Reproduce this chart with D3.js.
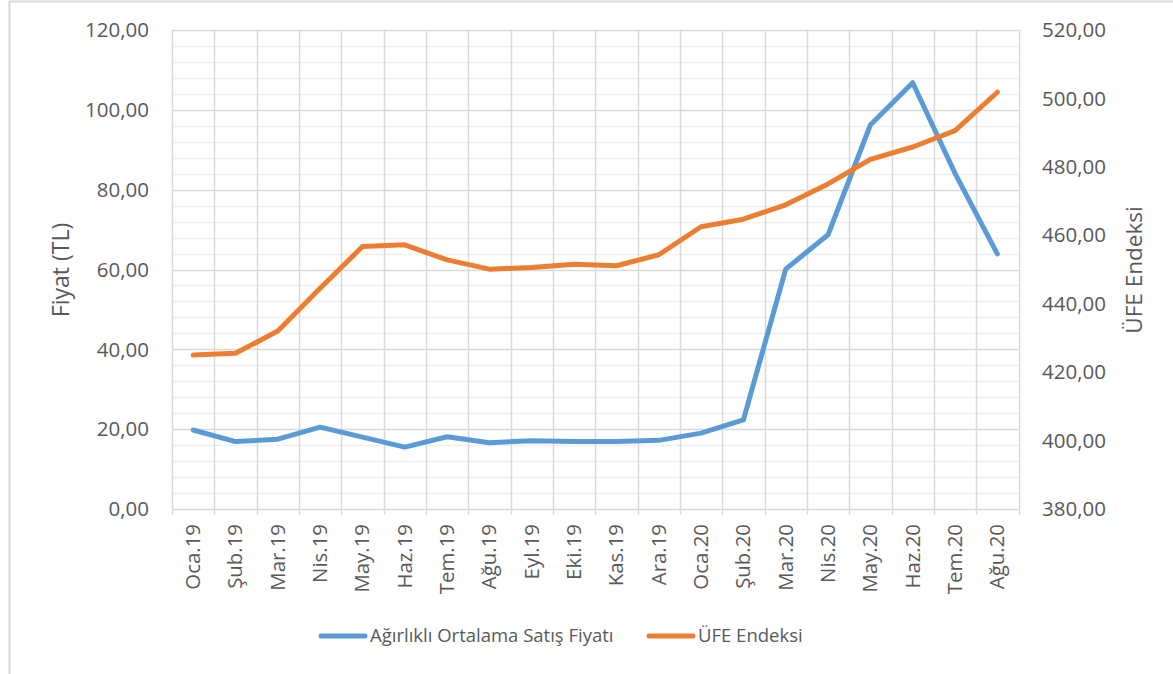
<!DOCTYPE html>
<html>
<head>
<meta charset="utf-8">
<script src="https://cdnjs.cloudflare.com/ajax/libs/d3/7.8.5/d3.min.js"></script>
<style>
  body { margin: 0; background: #fff; }
  svg text { font-family: "Open Sans", "Noto Sans", sans-serif; fill: #595959; }
</style>
</head>
<body>
<svg id="chart" width="1173" height="674"></svg>
<script>
// Months (categories)
var months = ["Oca.19", "Şub.19", "Mar.19", "Nis.19", "May.19", "Haz.19", "Tem.19", "Ağu.19",
              "Eyl.19", "Eki.19", "Kas.19", "Ara.19", "Oca.20", "Şub.20", "Mar.20", "Nis.20",
              "May.20", "Haz.20", "Tem.20", "Ağu.20"];

// Weighted average sale price (left axis, TL)
var priceValues = [19.8, 16.9, 17.5, 20.5, 18.0, 15.5, 18.1, 16.6, 17.1, 16.9,
                   16.9, 17.2, 19.0, 22.3, 60.1, 68.7, 96.2, 106.8, 84.1, 63.9];

// ÜFE index (right axis)
var ufeValues = [425.0, 425.5, 432.0, 444.5, 456.7, 457.2, 452.8, 450.1, 450.6, 451.5,
                 451.1, 454.3, 462.5, 464.7, 468.9, 475.0, 482.2, 485.8, 490.6, 501.8];

var leftTicks = [0, 20, 40, 60, 80, 100, 120];
var rightTicks = [380, 400, 420, 440, 460, 480, 500, 520];

var seriesNames = ["Ağırlıklı Ortalama Satış Fiyatı", "ÜFE Endeksi"];
var colors = ["#5b9bd5", "#ed7d31"];

var svg = d3.select("#chart");
var fmt = function(v) { return d3.format(".2f")(v).replace(".", ","); };

// outer chart border
svg.append("rect")
    .attr("x", 9.5).attr("y", 1.5)
    .attr("width", 1180).attr("height", 700)
    .attr("fill", "none").attr("stroke", "#d9d9d9").attr("stroke-width", 2);

var plotLeft = 172, plotRight = 1018.5, plotTop = 30, plotBottom = 509;

var x = d3.scaleBand().domain(months).range([plotLeft, plotRight]);
var yL = d3.scaleLinear().domain([0, 120]).range([plotBottom, plotTop]);
var yR = d3.scaleLinear().domain([380, 520]).range([plotBottom, plotTop]);

// minor horizontal gridlines (every 4)
svg.append("g")
    .selectAll("line")
    .data(d3.range(0, 121, 4).filter(function(v) { return v % 20 !== 0; }))
    .enter().append("line")
    .attr("x1", plotLeft).attr("x2", plotRight)
    .attr("y1", function(d) { return Math.round(yL(d)) + 0.5; })
    .attr("y2", function(d) { return Math.round(yL(d)) + 0.5; })
    .attr("stroke", "#f0f0f0").attr("stroke-width", 1.5);

// vertical gridlines at category boundaries
svg.append("g")
    .selectAll("line")
    .data(months.concat(["end"]))
    .enter().append("line")
    .attr("x1", function(d, i) { return Math.round(plotLeft + i * x.step()) + 0.5; })
    .attr("x2", function(d, i) { return Math.round(plotLeft + i * x.step()) + 0.5; })
    .attr("y1", plotTop).attr("y2", plotBottom + 6)
    .attr("stroke", "#d9d9d9").attr("stroke-width", 1.5);

// major horizontal gridlines
svg.append("g")
    .selectAll("line")
    .data(leftTicks)
    .enter().append("line")
    .attr("x1", plotLeft).attr("x2", plotRight)
    .attr("y1", function(d) { return Math.round(yL(d)) + 0.5; })
    .attr("y2", function(d) { return Math.round(yL(d)) + 0.5; })
    .attr("stroke", "#d9d9d9").attr("stroke-width", 1.5);

// left axis labels
svg.append("g")
    .selectAll("text")
    .data(leftTicks)
    .enter().append("text")
    .attr("x", 149)
    .attr("y", function(d) { return yL(d); })
    .attr("dy", "0.35em")
    .attr("text-anchor", "end")
    .style("font-size", "20.5px")
    .text(fmt);

// right axis labels
svg.append("g")
    .selectAll("text")
    .data(rightTicks)
    .enter().append("text")
    .attr("x", 1042)
    .attr("y", function(d) { return yR(d); })
    .attr("dy", "0.35em")
    .attr("text-anchor", "start")
    .style("font-size", "20.5px")
    .text(fmt);

// x labels (rotated)
svg.append("g")
    .selectAll("text")
    .data(months)
    .enter().append("text")
    .attr("transform", function(d) {
        return "translate(" + (x(d) + x.bandwidth() / 2 + 7) + "," + 524 + ")rotate(-90)";
    })
    .attr("text-anchor", "end")
    .style("font-size", "20.4px")
    .text(function(d) { return d; });

// axis titles
svg.append("text")
    .attr("transform", "translate(69,270)rotate(-90)")
    .attr("text-anchor", "middle")
    .style("font-size", "23px")
    .text("Fiyat (TL)");

svg.append("text")
    .attr("transform", "translate(1141.5,270)rotate(-90)")
    .attr("text-anchor", "middle")
    .style("font-size", "22.5px")
    .text("ÜFE Endeksi");

// lines
var lineL = d3.line()
    .x(function(d, i) { return x(months[i]) + x.bandwidth() / 2; })
    .y(function(d) { return yL(d); });
var lineR = d3.line()
    .x(function(d, i) { return x(months[i]) + x.bandwidth() / 2; })
    .y(function(d) { return yR(d); });

svg.append("path")
    .datum(priceValues)
    .attr("d", lineL)
    .attr("fill", "none").attr("stroke", colors[0])
    .attr("stroke-width", 5).attr("stroke-linecap", "round").attr("stroke-linejoin", "round");

svg.append("path")
    .datum(ufeValues)
    .attr("d", lineR)
    .attr("fill", "none").attr("stroke", colors[1])
    .attr("stroke-width", 5).attr("stroke-linecap", "round").attr("stroke-linejoin", "round");

// legend
var legendX = [321, 649];
var legend = svg.append("g")
    .selectAll("g")
    .data(seriesNames)
    .enter().append("g")
    .attr("transform", function(d, i) { return "translate(" + legendX[i] + ",636)"; });

legend.append("line")
    .attr("x1", 0).attr("x2", 44)
    .attr("stroke", function(d, i) { return colors[i]; })
    .attr("stroke-width", 5).attr("stroke-linecap", "round");

legend.append("text")
    .attr("x", 49)
    .attr("dy", "0.35em")
    .style("font-size", "18.5px")
    .text(function(d) { return d; });
</script>
</body>
</html>
